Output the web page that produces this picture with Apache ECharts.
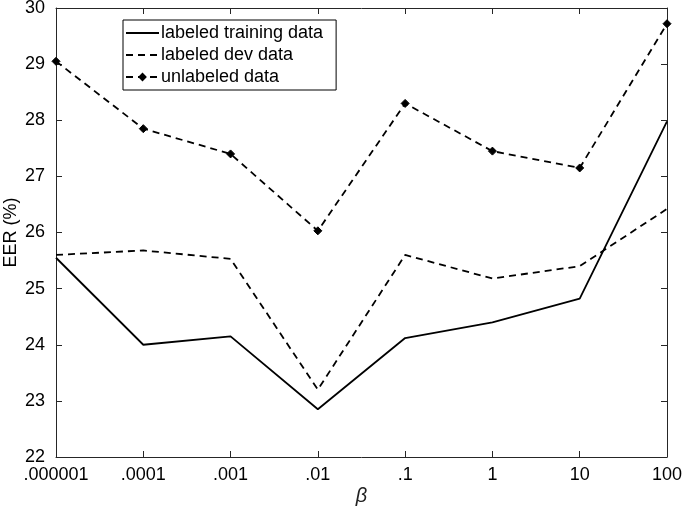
<!DOCTYPE html>
<html><head><meta charset="utf-8">
<script src="https://cdn.jsdelivr.net/npm/echarts@6/dist/echarts.min.js"></script>
<style>html,body{margin:0;padding:0;background:#fff}#c{width:685px;height:514px}</style>
</head><body><div id="c"></div>
<script>
const categories = ['.000001', '.0001', '.001', '.01', '.1', '1', '10', '100'];
const labeledTraining = [25.55, 24.0, 24.15, 22.85, 24.12, 24.4, 24.82, 27.98];
const labeledDev = [25.6, 25.68, 25.53, 23.2, 25.6, 25.18, 25.4, 26.42];
const unlabeled = [29.05, 27.85, 27.4, 26.03, 28.3, 27.45, 27.15, 29.72];
const yTicks = [22, 23, 24, 25, 26, 27, 28, 29, 30];

const font = 'Liberation Sans, Arial, Helvetica, sans-serif';
const chart = echarts.init(document.getElementById('c'));
const axisLine = { show: true, lineStyle: { color: '#262626', width: 1 } };
const tick = { show: true, inside: true, length: 6, lineStyle: { color: '#262626' } };
chart.setOption({
  animation: false,
  backgroundColor: '#fff',
  grid: { left: 56, right: 18, top: 8, bottom: 57, show: false, containLabel: false, outerBoundsMode: 'none' },
  legend: {
    left: 123, top: 20, orient: 'vertical',
    borderColor: '#000', borderWidth: 1, padding: [2, 13, 2, 2],
    itemGap: 0, itemWidth: 33, itemHeight: 11,
    textStyle: { fontFamily: font, fontSize: 18, color: '#000', lineHeight: 22, padding: [0, 0, 0, -3] },
    data: [
      { name: 'labeled training data', itemStyle: { opacity: 0 } },
      { name: 'labeled dev data', itemStyle: { opacity: 0 } },
      { name: 'unlabeled data' }
    ]
  },
  xAxis: [{
    type: 'category', data: categories, boundaryGap: false,
    axisLine, axisTick: tick,
    axisLabel: { fontFamily: font, fontSize: 18, color: '#000', margin: 9 },
    name: 'β', nameLocation: 'middle', nameGap: 29, nameMoveOverlap: false,
    nameTextStyle: { fontFamily: font, fontSize: 20, fontStyle: 'italic', color: '#222' },
    splitLine: { show: false }
  }, {
    type: 'category', data: categories, boundaryGap: false, position: 'top',
    axisLine, axisTick: tick,
    axisLabel: { show: false }, splitLine: { show: false }
  }],
  yAxis: [{
    type: 'value', min: 22, max: 30, interval: 1,
    axisLine, axisTick: tick,
    axisLabel: { fontFamily: font, fontSize: 18, color: '#000', margin: 11,
      formatter: v => yTicks.includes(v) ? String(v) : '' },
    name: 'EER (%)', nameLocation: 'middle', nameGap: 36, nameRotate: 90, nameMoveOverlap: false,
    nameTextStyle: { fontFamily: font, fontSize: 18, color: '#000' },
    splitLine: { show: false }
  }, {
    type: 'value', min: 22, max: 30, interval: 1, position: 'right',
    axisLine, axisTick: tick,
    axisLabel: { show: false }, splitLine: { show: false }
  }],
  series: [{
    name: 'labeled training data', type: 'line', data: labeledTraining,
    showSymbol: false, symbol: 'none',
    lineStyle: { color: '#000', width: 1.8, type: 'solid' }, itemStyle: { color: '#000' }
  }, {
    name: 'labeled dev data', type: 'line', data: labeledDev,
    showSymbol: false, symbol: 'none',
    lineStyle: { color: '#000', width: 1.8, type: [7, 5] }, itemStyle: { color: '#000' }
  }, {
    name: 'unlabeled data', type: 'line', data: unlabeled,
    symbol: 'diamond', symbolSize: 8,
    lineStyle: { color: '#000', width: 1.8, type: [7, 5] },
    itemStyle: { color: '#000', borderColor: '#000' }
  }]
});
</script></body></html>
